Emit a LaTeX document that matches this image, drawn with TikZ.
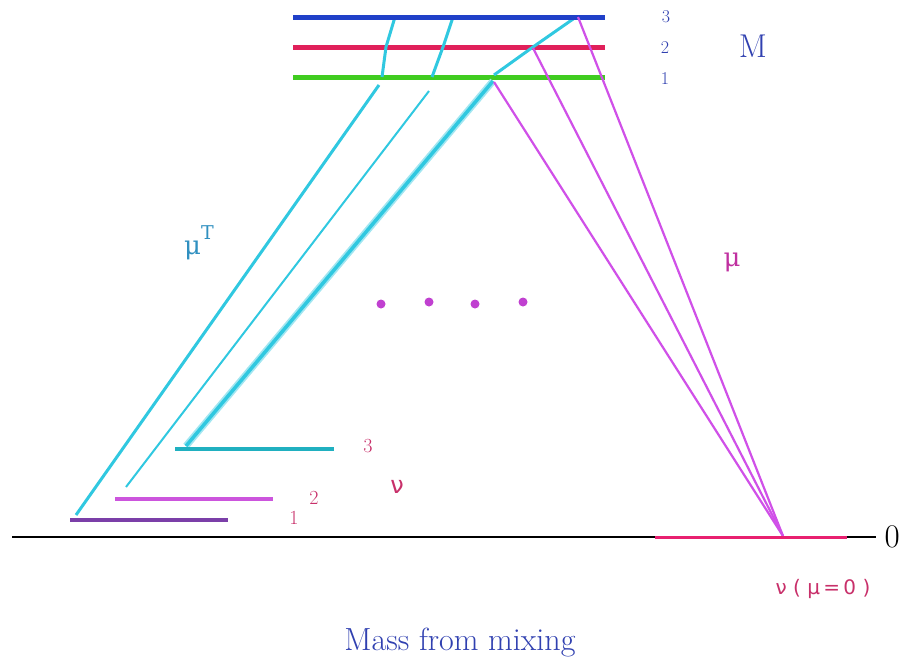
\documentclass[tikz,border=0pt]{standalone}
\usepackage{fontspec}
\newfontfamily\gr{DejaVu Serif}
\newfontfamily\grs{DejaVu Sans}
\definecolor{mblue}{HTML}{2040C8}
\definecolor{mred}{HTML}{E0205A}
\definecolor{mgreen}{HTML}{40CC20}
\definecolor{cyanl}{HTML}{30C8E0}
\definecolor{magl}{HTML}{D050E8}
\definecolor{pinkl}{HTML}{E82070}
\definecolor{nuone}{HTML}{7B3FA8}
\definecolor{nutwo}{HTML}{CC55DD}
\definecolor{nuthree}{HTML}{20B0C0}
\definecolor{labred}{HTML}{C8306A}
\definecolor{labblue}{HTML}{3040B0}
\definecolor{mutcol}{HTML}{3090C0}
\definecolor{mucol}{HTML}{C030A0}
\definecolor{dotcol}{HTML}{C040D0}
\begin{document}
\begin{tikzpicture}[x=1pt,y=-1pt,
  level/.style={line width=5pt},
  cyanline/.style={cyanl,line width=3pt},
  magline/.style={magl,line width=2.2pt},
  toplab/.style={text=labblue,font=\fontsize{18}{20}\selectfont},
  botlab/.style={text=labred,font=\fontsize{20}{22}\selectfont},
  dotn/.style={circle,fill=dotcol,inner sep=0pt,minimum size=9pt}]
\useasboundingbox (0,0) rectangle (905,664);
% axis
\coordinate (axL) at (12,537);
\coordinate (axR) at (876,537);
\draw[black,line width=2pt] (axL) -- (axR);
\node[anchor=west,font=\fontsize{33}{36}\selectfont] (zero) at (881,537) {0};
% M levels
\coordinate (m3L) at (293,17); \coordinate (m3R) at (605,17);
\coordinate (m2L) at (293,47); \coordinate (m2R) at (605,47);
\coordinate (m1L) at (293,77); \coordinate (m1R) at (605,77);
\draw[level,mred] (m2L) -- (m2R);
\draw[level,mgreen] (m1L) -- (m1R);
% cyan lines upper parts
\coordinate (a3) at (395,17); \coordinate (a2) at (386,47); \coordinate (a1) at (382,77);
\coordinate (b3) at (453,17); \coordinate (b2) at (443,47); \coordinate (b1) at (432,77);
\coordinate (c3) at (576,17); \coordinate (c2) at (533,47); \coordinate (c1) at (494,75);
\draw[cyanline] (a3) -- (a2) -- (a1);
\draw[cyanline] (b3) -- (b2) -- (b1);
\draw[cyanline] (c3) -- (c2) -- (c1);
\draw[level,mblue] (m3L) -- (m3R);
% labels M
\node[toplab] (l3) at (666,17) {3};
\node[toplab] (l2) at (665,48) {2};
\node[toplab] (l1) at (665,79) {1};
\node[text=labblue,font=\fontsize{33}{36}\selectfont] (M) at (753,46) {M};
% lower cyan lines
\coordinate (a0t) at (379,85); \coordinate (a0b) at (76,515);
\coordinate (b0t) at (429,91); \coordinate (b0b) at (126,487);
\coordinate (c0t) at (493,81); \coordinate (c0b) at (186,446);
\draw[cyanline] (a0t) -- (a0b);
\draw[cyanl,line width=2pt] (b0t) -- (b0b);
\draw[cyanl!45,line width=7pt] (c0t) -- (c0b);
\draw[cyanl,line width=3.5pt] (c0t) -- (c0b);
% magenta lines
\coordinate (conv) at (783,536);
\coordinate (p3) at (578,17); \coordinate (p2) at (533,48); \coordinate (p1) at (494,82);
\draw[magline] (p3) -- (conv);
\draw[magline] (p2) -- (conv);
\draw[magline] (p1) -- (conv);
% nu mu=0 level
\coordinate (zL) at (655,537); \coordinate (zR) at (847,537);
\draw[pinkl,line width=3pt] (zL) -- (zR);
\node[text=labred,font=\grs\fontsize{20}{22}\selectfont] (nu0) at (823,589) {ν ( μ\,=\,0 )};
% nu levels
\coordinate (n1L) at (70,520); \coordinate (n1R) at (228,520);
\coordinate (n2L) at (115,499); \coordinate (n2R) at (273,499);
\coordinate (n3L) at (175,449); \coordinate (n3R) at (334,449);
\draw[nuone,line width=3.5pt] (n1L) -- (n1R);
\draw[nutwo,line width=3.5pt] (n2L) -- (n2R);
\draw[nuthree,line width=3.5pt] (n3L) -- (n3R);
\node[botlab] (k3) at (368,446) {3};
\node[botlab] (k2) at (314,498) {2};
\node[botlab] (k1) at (294,518) {1};
\node[text=labred,font=\grs\fontsize{24}{26}\selectfont] (nu) at (397,487) {ν};
% mu labels
\node[text=mutcol,font=\gr\fontsize{26}{28}\selectfont] (muT) at (199,243) {μ\raisebox{1.1ex}{\fontsize{19}{20}\selectfont T}};
\node[text=mucol,font=\gr\fontsize{26}{28}\selectfont] (mu) at (732,262) {μ};
% dots
\node[dotn] (d1) at (381,304) {};
\node[dotn] (d2) at (429,302) {};
\node[dotn] (d3) at (475,304) {};
\node[dotn] (d4) at (523,302) {};
% title
\node[text=labblue,font=\fontsize{32}{36}\selectfont] (title) at (460,643) {Mass from mixing};
\end{tikzpicture}
\end{document}
